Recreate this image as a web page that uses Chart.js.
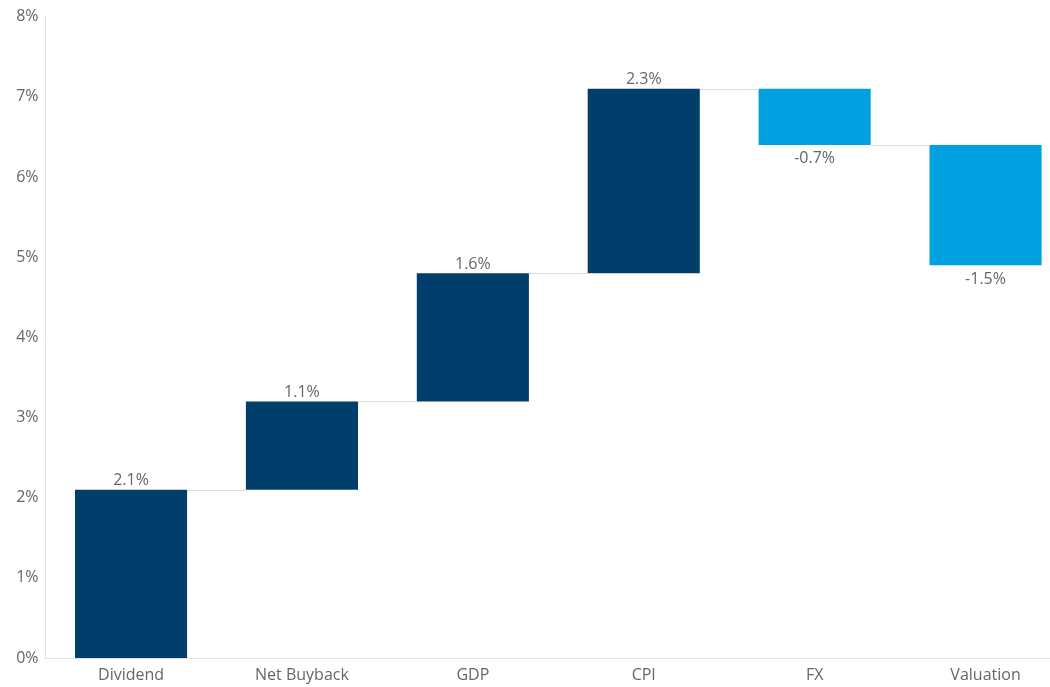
<!DOCTYPE html>
<html>
<head>
<meta charset="utf-8">
<script src="https://cdn.jsdelivr.net/npm/chart.js@4/dist/chart.umd.min.js"></script>
<style>
  html, body { margin: 0; padding: 0; background: #fff; overflow: hidden; }
  #wrap { position: absolute; left: 0; top: 0; width: 1071px; height: 687px; }
</style>
</head>
<body>
<div id="wrap"><canvas id="c"></canvas></div>
<script>
// Return decomposition components (percentage points)
const categories = ['Dividend', 'Net Buyback', 'GDP', 'CPI', 'FX', 'Valuation'];
const contributions = [2.1, 1.1, 1.6, 2.3, -0.7, -1.5];
const yTicks = [0, 1, 2, 3, 4, 5, 6, 7, 8];

const POS_COLOR = '#003F6B';
const NEG_COLOR = '#00A1E0';
const FONT = '"Open Sans", "Noto Sans", sans-serif';

// Build floating [start, end] ranges for the waterfall
const ranges = [];
let running = 0;
contributions.forEach(v => {
  const start = running;
  running = +(running + v).toFixed(4);
  ranges.push([start, running]);
});

// Connector lines between consecutive bars and value labels
const waterfallDecor = {
  id: 'waterfallDecor',
  afterDatasetsDraw(chart) {
    const { ctx, scales: { y } } = chart;
    const meta = chart.getDatasetMeta(0);
    ctx.save();
    ctx.strokeStyle = '#dcdcdc';
    ctx.lineWidth = 1;
    for (let i = 0; i < meta.data.length - 1; i++) {
      const a = meta.data[i], b = meta.data[i + 1];
      const level = ranges[i][1];
      const py = Math.round(y.getPixelForValue(level)) + 0.5;
      ctx.beginPath();
      ctx.moveTo(a.x + a.width / 2, py);
      ctx.lineTo(b.x - b.width / 2, py);
      ctx.stroke();
    }
    ctx.fillStyle = '#666666';
    ctx.font = '16px ' + FONT;
    ctx.textAlign = 'center';
    meta.data.forEach((bar, i) => {
      const v = contributions[i];
      const text = v.toFixed(1) + '%';
      if (v >= 0) {
        ctx.textBaseline = 'bottom';
        ctx.fillText(text, bar.x, y.getPixelForValue(ranges[i][1]) - 1);
      } else {
        ctx.textBaseline = 'top';
        ctx.fillText(text, bar.x, y.getPixelForValue(ranges[i][1]) + 6);
      }
    });
    ctx.restore();
  }
};

new Chart(document.getElementById('c'), {
  type: 'bar',
  data: {
    labels: categories,
    datasets: [{
      data: ranges,
      backgroundColor: contributions.map(v => v >= 0 ? POS_COLOR : NEG_COLOR),
      borderWidth: 0,
      borderSkipped: false,
      barPercentage: 0.656,
      categoryPercentage: 1.0
    }]
  },
  options: {
    responsive: true,
    maintainAspectRatio: false,
    animation: false,
    layout: { padding: { top: 14, left: 0, right: 0, bottom: 0 } },
    plugins: {
      legend: { display: false },
      tooltip: { enabled: false }
    },
    scales: {
      x: {
        grid: { display: false, drawTicks: false },
        border: { color: '#e3e3e3', width: 1 },
        ticks: {
          color: '#666666',
          font: { family: FONT, size: 16 },
          padding: 8,
          maxRotation: 0
        },
        afterFit(scale) { scale.height = 29; }
      },
      y: {
        min: 0,
        max: 8,
        afterBuildTicks(scale) { scale.ticks = yTicks.map(v => ({ value: v })); },
        grid: { display: false, drawTicks: false },
        border: { color: '#e3e3e3', width: 1 },
        ticks: {
          color: '#666666',
          font: { family: FONT, size: 16 },
          padding: 7,
          callback: v => v + '%'
        },
        afterFit(scale) { scale.width = 45.6; }
      }
    }
  },
  plugins: [waterfallDecor]
});
</script>
</body>
</html>
